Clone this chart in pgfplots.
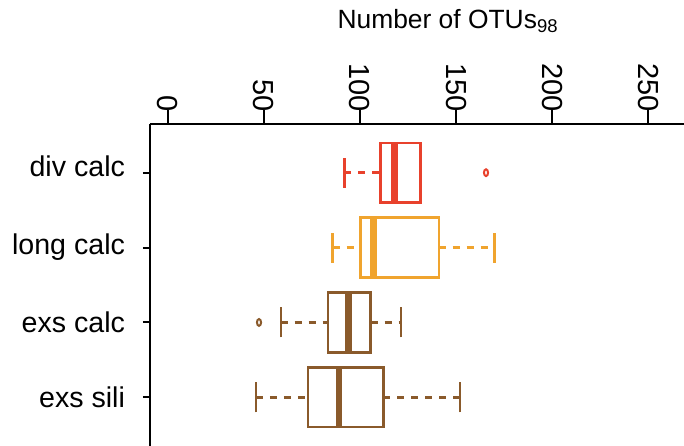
\documentclass[border=0pt]{standalone}
\usepackage{fontspec}
\setmainfont{Liberation Sans}
\usepackage{pgfplots}
\pgfplotsset{compat=1.18}
\usepgfplotslibrary{statistics}

\definecolor{divred}{RGB}{232,65,44}
\definecolor{longorange}{RGB}{240,164,46}
\definecolor{exsbrown}{RGB}{138,90,43}

% R-like boxplot: dashed whisker, solid staple, thick median
\pgfplotsset{
  rbox/.style={
    boxplot/draw direction=x,
    boxplot/box extend=0.8,
    boxplot/whisker extend=0.4,
    line width=1.2bp, solid,
    mark=o, mark size=1.7bp, mark options={solid, xscale=0.6, line width=1bp},
    boxplot/every median/.style={line width=3.4bp},
    boxplot/draw/lower whisker/.code={
      \draw[dash pattern=on 3.5bp off 3.5bp]
        (boxplot box cs:\pgfplotsboxplotvalue{lower whisker},0.5) --
        (boxplot box cs:\pgfplotsboxplotvalue{lower quartile},0.5);
      \draw (boxplot whisker cs:\pgfplotsboxplotvalue{lower whisker},0) --
        (boxplot whisker cs:\pgfplotsboxplotvalue{lower whisker},1);
    },
    boxplot/draw/upper whisker/.code={
      \draw[dash pattern=on 3.5bp off 3.5bp]
        (boxplot box cs:\pgfplotsboxplotvalue{upper quartile},0.5) --
        (boxplot box cs:\pgfplotsboxplotvalue{upper whisker},0.5);
      \draw (boxplot whisker cs:\pgfplotsboxplotvalue{upper whisker},0) --
        (boxplot whisker cs:\pgfplotsboxplotvalue{upper whisker},1);
    },
  },
}

\begin{document}
\begin{tikzpicture}
\begin{axis}[
  scale only axis,
  width=267bp, height=161bp,
  xmin=-9.21, xmax=268.6,
  ymin=0.35, ymax=4.65,
  axis x line*=top, axis y line*=left,
  axis line style={line width=1bp, -},
  tick align=outside,
  major tick length=3.5bp,
  minor tick length=7bp,
  tick style={line width=1bp, black},
  xtick={0,50,100,150,200,250},
  minor xtick={0,50,100,150,200,250},
  ytick={1,2,3,4},
  yticklabels={exs sili, exs calc, \raisebox{1.5bp}{long calc}, \raisebox{6.5bp}{div calc}},
  /pgf/number format/assume math mode=true,
  xticklabel style={font=\fontsize{14.5bp}{17bp}\selectfont, yshift=-1bp, rotate=-90, anchor=east},
  yticklabel style={font=\fontsize{14.3bp}{17bp}\selectfont, xshift=-5.5bp, anchor=east},
  clip=false,
]
\addplot[rbox, divred, boxplot prepared={draw position=4,
  lower whisker=91.9, lower quartile=110.8, median=117.9,
  upper quartile=131.6, upper whisker=131.6}]
  coordinates {(0,165.6)};
\addplot[rbox, longorange, boxplot prepared={draw position=3,
  lower whisker=85.8, lower quartile=100.4, median=107.2,
  upper quartile=141.0, upper whisker=170.1}]
  coordinates {};
\addplot[rbox, exsbrown, boxplot prepared={draw position=2,
  lower whisker=58.8, lower quartile=83.5, median=94.2,
  upper quartile=105.6, upper whisker=121.4}]
  coordinates {(0,47.5)};
\addplot[rbox, exsbrown, boxplot prepared={draw position=1,
  lower whisker=45.9, lower quartile=73.1, median=89.1,
  upper quartile=112.2, upper whisker=152.1}]
  coordinates {};
\node[anchor=base west, yshift=48bp, font=\fontsize{13.2bp}{15bp}\selectfont]
  at (axis description cs:0.338,1) {Number of OTUs\textsubscript{98}};
\coordinate (sw) at (rel axis cs:0,0);
\end{axis}
\pgfresetboundingbox
\path[use as bounding box] ([xshift=-75bp]sw) rectangle ([xshift=267bp,yshift=223bp]sw);
\end{tikzpicture}
\end{document}
